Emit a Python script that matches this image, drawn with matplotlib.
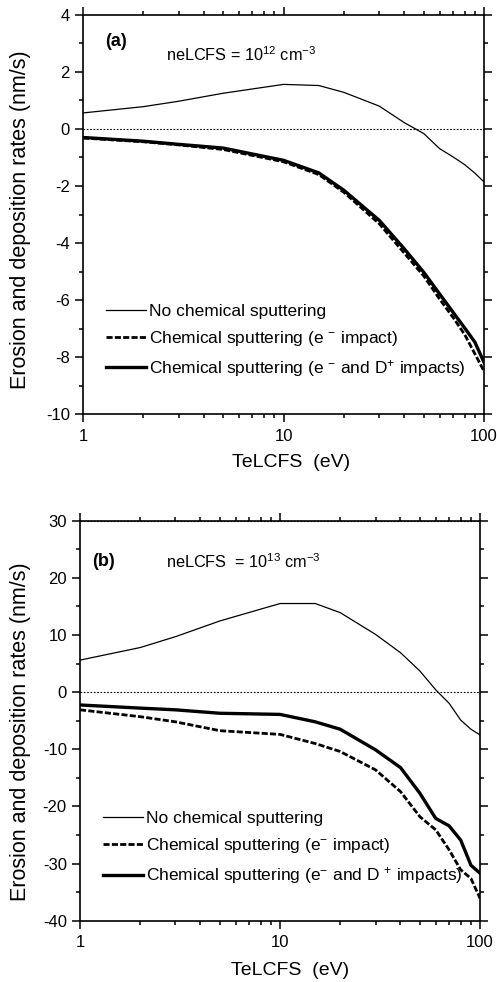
import numpy as np
import matplotlib
matplotlib.use("Agg")
import matplotlib.pyplot as plt

plt.rcParams['font.family'] = ['Liberation Sans', 'DejaVu Sans']
plt.rcParams['mathtext.default'] = 'regular'
plt.rcParams['axes.unicode_minus'] = False

# Te at the LCFS (eV)
te = [1, 2, 3, 5, 10, 15, 20, 30, 40, 50, 60, 70, 80, 90, 100]

# panel (a): neLCFS = 1e12 cm-3
a_none = [0.56, 0.78, 0.97, 1.25, 1.56, 1.52, 1.28, 0.80, 0.22, -0.16, -0.69, -0.98, -1.25, -1.55, -1.86]
a_e = [-0.32, -0.45, -0.56, -0.72, -1.15, -1.60, -2.22, -3.32, -4.35, -5.15, -5.96, -6.60, -7.20, -7.88, -8.49]
a_eD = [-0.30, -0.43, -0.54, -0.67, -1.10, -1.54, -2.15, -3.20, -4.20, -5.02, -5.78, -6.42, -6.97, -7.47, -8.18]

# panel (b): neLCFS = 1e13 cm-3
b_none = [5.6, 7.8, 9.7, 12.45, 15.5, 15.5, 13.9, 10.1, 6.9, 3.7, 0.4, -1.96, -4.9, -6.5, -7.5]
b_e = [-3.1, -4.3, -5.2, -6.75, -7.4, -9.0, -10.4, -13.6, -17.4, -21.8, -24.1, -27.6, -31.1, -32.6, -36.1]
b_eD = [-2.25, -2.8, -3.1, -3.7, -3.9, -5.2, -6.5, -10.1, -13.2, -17.7, -22.1, -23.4, -25.9, -30.3, -31.7]

fig = plt.figure(figsize=(4.97, 9.82), dpi=100)
ax1 = fig.add_axes([0.167, 0.578, 0.807, 0.407])
ax2 = fig.add_axes([0.161, 0.0624, 0.805, 0.4074])


def panel(ax, none, e, eD, ylim, major, minor, tag, tag_xy, ne, ne_xy,
          sup_e, sup_D, leg_xy, ylab_xy, xlab_xy):
    ax.plot(te, none, color='black', lw=0.9, label='No chemical sputtering')
    ax.plot(te, e, color='black', lw=2.0, linestyle=(0, (2.2, 0.8)),
            label='Chemical sputtering (e' + sup_e + ' impact)')
    ax.plot(te, eD, color='black', lw=2.4,
            label='Chemical sputtering (e' + sup_e + ' and D' + sup_D + ' impacts)')
    ax.axhline(0, color='black', lw=0.8, linestyle=(0, (1.5, 1.5)))
    ax.set_xscale('log')
    ax.set_xlim(1, 100)
    ax.set_ylim(*ylim)
    ax.set_yticks(major)
    ax.set_yticks(minor, minor=True)
    ax.set_xticks([1, 10, 100])
    ax.set_xticklabels(['1', '10', '100'])
    ax.tick_params(which='both', direction='out', top=True, right=True,
                   labelsize=12, width=1.1)
    ax.tick_params(which='major', length=5.5)
    ax.tick_params(axis='x', which='major', pad=5)
    ax.tick_params(axis='y', which='major', pad=4)
    ax.tick_params(which='minor', length=3)
    for s in ax.spines.values():
        s.set_linewidth(1.2)
    ax.set_xlabel('TeLCFS  (eV)', fontsize=14)
    ax.xaxis.set_label_coords(*xlab_xy)
    ax.set_ylabel('Erosion and deposition rates (nm/s)', fontsize=15.5)
    ax.yaxis.set_label_coords(*ylab_xy)
    ax.text(tag_xy[0], tag_xy[1], tag, transform=ax.transAxes, fontsize=13,
            fontweight='bold', va='center')
    ax.text(ne_xy[0], ne_xy[1], ne, transform=ax.transAxes, fontsize=11.7,
            va='center')
    ax.legend(loc='center left', bbox_to_anchor=leg_xy, frameon=False,
              fontsize=12.5, handlelength=2.3, handletextpad=0.2,
              labelspacing=0.58, borderaxespad=0, borderpad=0)


panel(ax1, a_none, a_e, a_eD, (-10, 4), np.arange(-10, 5, 2), np.arange(-9, 5, 2),
      '(a)', (0.055, 0.934), r'neLCFS = 10$^{12}$ cm$^{-3}$', (0.207, 0.899),
      ' $^{-}$', '$^{+}$', (0.057, 0.183), (-0.13, 0.486), (0.52, -0.1))
panel(ax2, b_none, b_e, b_eD, (-40, 30), np.arange(-40, 31, 10), np.arange(-35, 31, 10),
      '(b)', (0.03, 0.897), r'neLCFS  = 10$^{13}$ cm$^{-3}$', (0.215, 0.897),
      '$^{-}$', ' $^{+}$', (0.0575, 0.18), (-0.122, 0.472), (0.525, -0.1025))
ax2.axhline(30, color='black', lw=0.8, linestyle=(0, (1.5, 1.5)))

fig.savefig('out.png', dpi=100)
